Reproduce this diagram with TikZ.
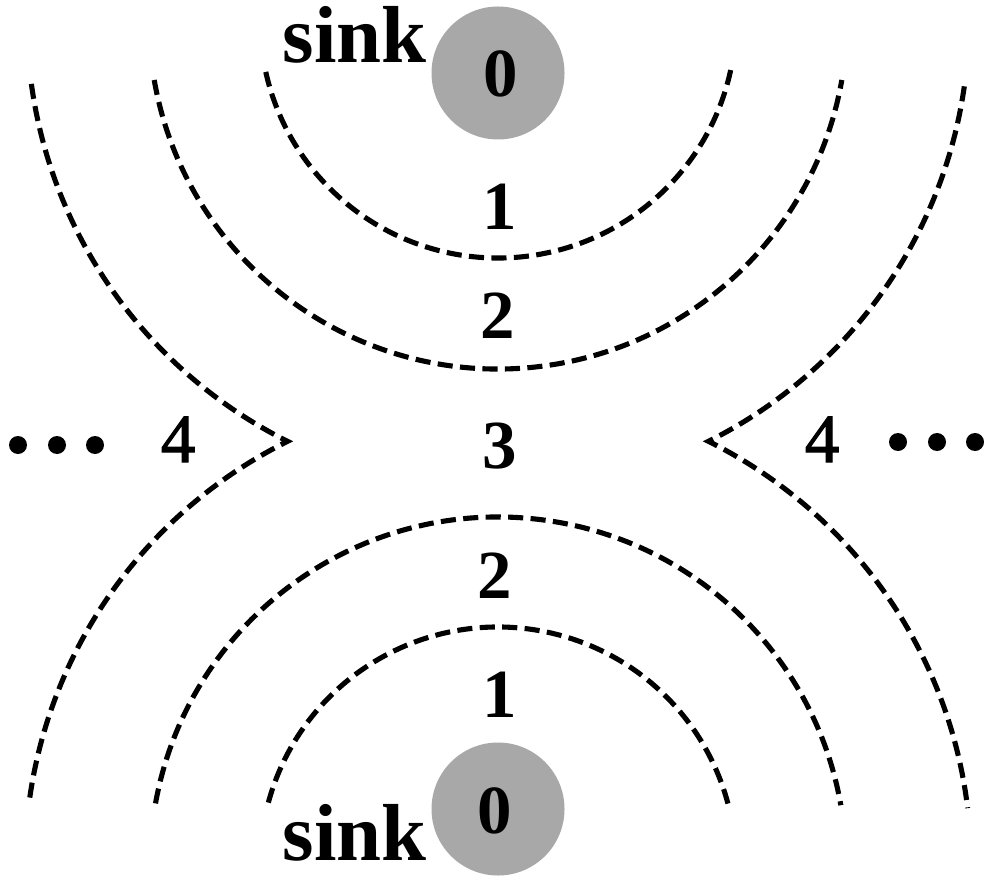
\documentclass[tikz,border=0pt]{standalone}
\usepackage{fontspec}
\setmainfont{Liberation Serif}
\newfontfamily\medserif[FakeBold=1.8]{Liberation Serif}
\definecolor{sinkgray}{RGB}{168,168,168}
\begin{document}
\begin{tikzpicture}[
  ring/.style={draw=black, line width=1.45pt, dash pattern=on 4.3pt off 2.1pt, line join=miter},
  sinknode/.style={circle, fill=sinkgray, draw=none, minimum size=1.33cm, inner sep=0pt},
  digit/.style={font=\fontsize{19.6}{20}\selectfont\bfseries, anchor=base, inner sep=0pt},
  digitlight/.style={font=\fontsize{19.6}{20}\medserif, anchor=base, inner sep=0pt},
  sinklabel/.style={font=\fontsize{23}{24}\selectfont\bfseries, anchor=base, inner sep=0pt},
  dotnode/.style={circle, fill=black, minimum size=0.18cm, inner sep=0pt}
]
\useasboundingbox (0,0) rectangle (10,8.86);
% centres of the families of circles
\coordinate (T) at (4.98,8.66);
\coordinate (B) at (4.98,0.21);

% sinks
\node[sinknode] (s1) at (4.98,8.13) {};
\node[sinknode] (s2) at (4.98,0.77) {};
\node[digit] (z1) at (5.01,7.89) {0};
\node[digit] (z2) at (4.95,0.53) {0};
\node[sinklabel] (k1) at (3.545,8.23) {sink};
\node[sinklabel] (k2) at (3.545,0.26) {sink};

% top rings
\draw[ring] (T) ++(192.6:2.38) arc[start angle=192.6, end angle=348.4, radius=2.38];
\draw[ring] (T) ++(189.9:3.49) arc[start angle=189.9, end angle=350.1, radius=3.49];
% bottom rings
\draw[ring] (B) ++(164.8:2.38) arc[start angle=164.8, end angle=14.2, radius=2.38];
\draw[ring] (B) ++(169.8:3.48) arc[start angle=169.8, end angle=9.9, radius=3.48];
% outer boundaries with cusps
\draw[ring] (T) ++(187.8:4.71) arc[start angle=187.8, end angle=243.46, radius=4.71]
  arc[start angle=116.41, end angle=172.3, radius=4.73];
\draw[ring] (T) ++(351.9:4.71) arc[start angle=351.9, end angle=296.54, radius=4.71]
  arc[start angle=63.59, end angle=6.9, radius=4.73];

% level labels
\node[digit] (t1) at (5.00,6.56) {1};
\node[digit] (t2) at (4.98,5.48) {2};
\node[digit] (m3) at (5.00,4.18) {3};
\node[digit] (b2) at (4.95,2.88) {2};
\node[digit] (b1) at (5.00,1.69) {1};
\node[digitlight] (l4) at (1.78,4.24) {\selectfont 4};
\node[digitlight] (r4) at (8.22,4.24) {\selectfont 4};

% ellipsis dots
\node[dotnode] (ld1) at (0.18,4.41) {};
\node[dotnode] (ld2) at (0.57,4.41) {};
\node[dotnode] (ld3) at (0.95,4.41) {};
\node[dotnode] (rd1) at (8.98,4.44) {};
\node[dotnode] (rd2) at (9.37,4.44) {};
\node[dotnode] (rd3) at (9.75,4.44) {};
\end{tikzpicture}
\end{document}
